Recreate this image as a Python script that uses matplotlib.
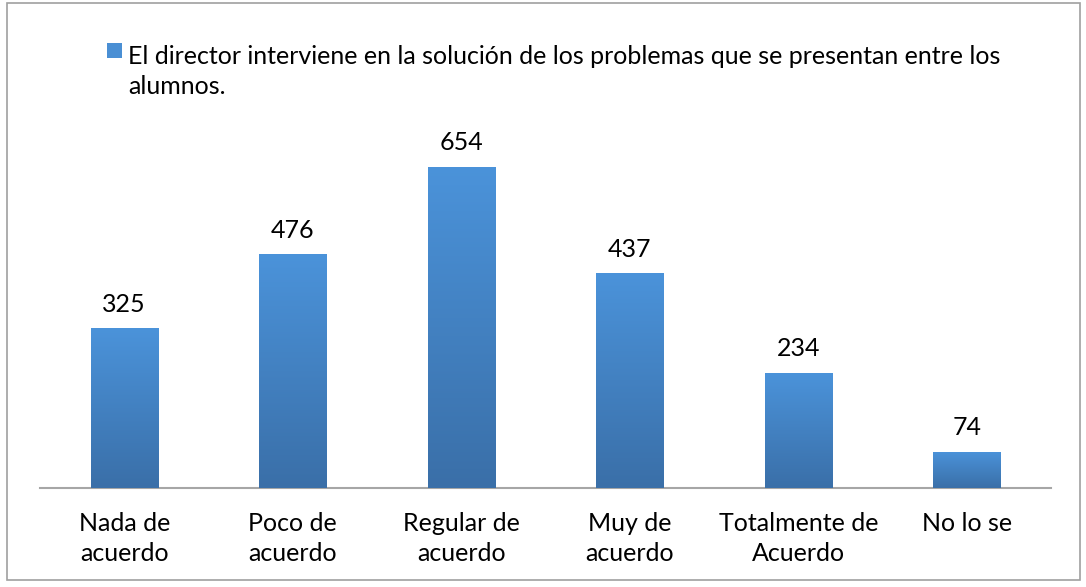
#!/usr/bin/env python3

import numpy as np
import matplotlib
matplotlib.use("Agg")
import matplotlib.pyplot as plt
from matplotlib.patches import Rectangle

categories = ["Nada de\nacuerdo", "Poco de\nacuerdo", "Regular de\nacuerdo",
              "Muy de\nacuerdo", "Totalmente de\nAcuerdo", "No lo se"]
values = [325, 476, 654, 437, 234, 74]
series_name = ("El director interviene en la solución de los problemas que se presentan entre los\n"
               "alumnos.")

plt.rcParams['font.family'] = ['Lato', 'DejaVu Sans']

fig = plt.figure(figsize=(10.86, 5.87), dpi=100)
ax = fig.add_axes([0.0368, 0.1687, 0.931, 0.586])

x = np.arange(len(values))
bars = ax.bar(x, values, width=0.4, color="#4a8fd4", zorder=2)

# vertical gradient on each bar, light on top, darker at bottom
grad = np.linspace(1, 0, 256).reshape(-1, 1)
cmap = matplotlib.colors.LinearSegmentedColormap.from_list("g", ["#3a6fa8", "#4b93da"])
for b in bars:
    bx, by = b.get_x(), b.get_y()
    w, h = b.get_width(), b.get_height()
    im = ax.imshow(grad, cmap=cmap, aspect="auto", extent=[bx, bx + w, by, by + h], zorder=3)
    im.set_clip_path(b)
    ax.annotate(str(int(h)), (bx + w / 2, h), xytext=(0, 9), textcoords="offset points",
                ha="center", va="bottom", fontsize=18, color="#000000")

ax.set_xlim(-0.5, len(values) - 0.5)
ax.set_ylim(0, 700)
ax.set_xticks(x)
ax.set_xticklabels(categories, fontsize=18, linespacing=1.38)
ax.tick_params(axis="x", length=0, pad=17)
ax.set_yticks([])
for s in ["top", "right", "left"]:
    ax.spines[s].set_visible(False)
ax.spines["bottom"].set_color("#a6a6a6")
ax.spines["bottom"].set_linewidth(1.5)

# legend drawn by hand so the marker sits on the first line
fig.patches.append(Rectangle((107 / 1086, 1 - 58 / 587), 15 / 1086, 15 / 587,
                             transform=fig.transFigure, facecolor="#4a8fd4",
                             edgecolor="none"))
fig.text(128 / 1086, 1 - 45 / 587, series_name, fontsize=18, va="top", ha="left",
         linespacing=1.38)

# outer chart border
fig.patches.append(Rectangle((7 / 1086, 7 / 587), 1073 / 1086, 577 / 587,
                             transform=fig.transFigure, facecolor="none",
                             edgecolor="#a0a0a0", linewidth=1.2))

fig.savefig("out.png", dpi=100)
